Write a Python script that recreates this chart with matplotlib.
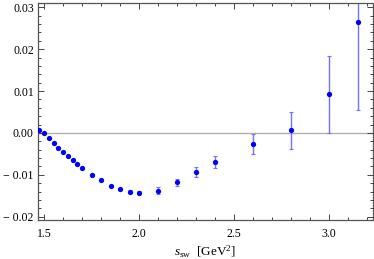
import matplotlib
matplotlib.use('Agg')
import matplotlib.pyplot as plt
from matplotlib import ticker

# s_sw values [GeV^2] and the quantity with its errors
s_sw = [1.475, 1.5, 1.525, 1.55, 1.575, 1.6, 1.625, 1.65, 1.675, 1.7,
        1.75, 1.8, 1.85, 1.9, 1.95, 2.0, 2.1, 2.2, 2.3, 2.4, 2.6, 2.8, 3.0, 3.15]
val = [0.0006, -0.0001, -0.0013, -0.0024, -0.0035, -0.0045, -0.0055, -0.0065,
       -0.0075, -0.0084, -0.0100, -0.0113, -0.0127, -0.0134, -0.0140, -0.0143,
       -0.0138, -0.0118, -0.0093, -0.0070, -0.0027, 0.0006, 0.0092, 0.0265]
err = [0.0001, 0.0001, 0.0001, 0.0001, 0.0001, 0.0001, 0.0001, 0.0001,
       0.0001, 0.0001, 0.0001, 0.0002, 0.0002, 0.0003, 0.0003, 0.0004,
       0.0008, 0.0009, 0.0012, 0.0015, 0.0024, 0.0044, 0.0092, 0.0211]

plt.rcParams['font.family'] = ['Liberation Serif', 'DejaVu Serif']
plt.rcParams['mathtext.fontset'] = 'custom'
plt.rcParams['mathtext.rm'] = 'Liberation Serif'
plt.rcParams['mathtext.it'] = 'Liberation Serif:italic'

fig = plt.figure(figsize=(3.74, 2.59), dpi=100)
ax = fig.add_axes([0.1016, 0.1506, 0.8954, 0.8374])

ax.axhline(0, color='#b0b0b0', lw=1.0, zorder=1)
ax.errorbar(s_sw, val, yerr=err, fmt='none', ecolor=(0.45, 0.45, 1.0),
            elinewidth=1.0, capsize=1.5, capthick=0.8, zorder=2)
ax.plot(s_sw, val, 'o', color=(0, 0, 1), ms=3.8, mec='none', zorder=3)

ax.set_xlim(1.468, 3.23)
ax.set_ylim(-0.0208, 0.031)

ax.xaxis.set_major_locator(ticker.MultipleLocator(0.5))
ax.xaxis.set_minor_locator(ticker.MultipleLocator(0.1))
ax.yaxis.set_major_locator(ticker.MultipleLocator(0.01))
ax.yaxis.set_minor_locator(ticker.MultipleLocator(0.002))
ax.xaxis.set_major_formatter(ticker.FormatStrFormatter('%.1f'))
ax.yaxis.set_major_formatter(ticker.FuncFormatter(
    lambda v, p: ('\u2212 ' if v < -1e-9 else '') + '%.2f' % abs(v)))

ax.tick_params(which='both', direction='in', top=True, right=True,
               color='#444444', labelsize=8.5, width=0.7)
ax.tick_params(axis='x', which='major', length=4, pad=5.5)
ax.tick_params(axis='y', which='major', length=4, pad=3)
ax.tick_params(which='minor', length=2)
for sp in ax.spines.values():
    sp.set_color('#555555')
    sp.set_linewidth(0.9)

ax.set_xlabel(r'$s_{\rm sw}$  [GeV$^2$]', fontsize=9.5, labelpad=3)

fig.savefig('out.png', dpi=100)
